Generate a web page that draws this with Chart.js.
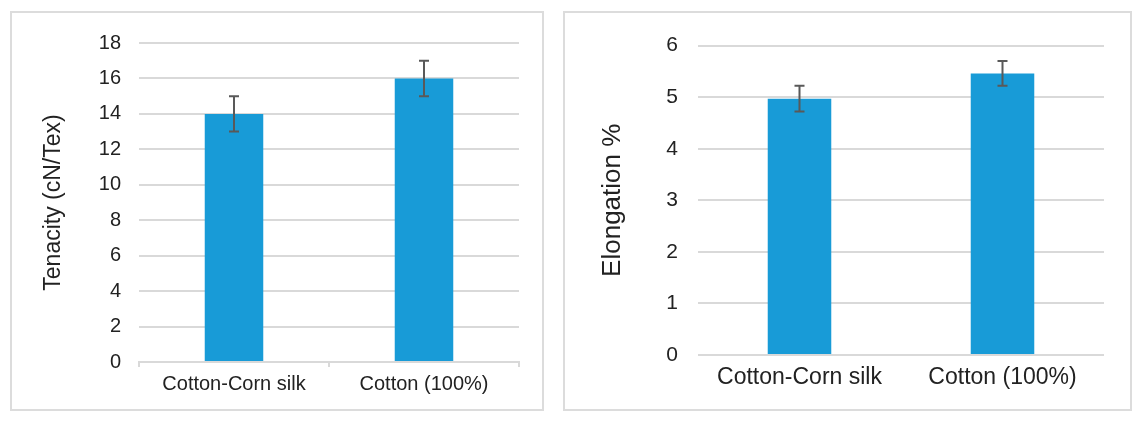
<!DOCTYPE html>
<html>
<head>
<meta charset="utf-8">
<script src="https://cdn.jsdelivr.net/npm/chart.js@4/dist/chart.umd.min.js"></script>
<style>
  html,body{margin:0;padding:0;background:#fff;width:1144px;height:421px;overflow:hidden;}
  .panel{position:absolute;top:11px;height:400px;border:2px solid #dcdcdc;box-sizing:border-box;background:#fff;}
  #p1{left:10px;width:534px;}
  #p2{left:563px;width:569px;}
  .panel canvas{display:block;}
</style>
</head>
<body>
<div class="panel" id="p1"><canvas id="c1"></canvas></div>
<div class="panel" id="p2"><canvas id="c2"></canvas></div>
<script>
/* data */
const categories = ['Cotton-Corn silk', 'Cotton (100%)'];
const tenacity = [14.0, 16.0];
const tenacityErr = [1.0, 1.0];
const elongation = [4.97, 5.46];
const elongationErr = [0.25, 0.24];
const tenacityMax = 18, tenacityStep = 2;
const elongationMax = 6, elongationStep = 1;

const BLUE = '#189bd7';
const GRID = '#d9d9d9';
const TXT = '#222';
const FONT = "'Liberation Sans', Arial, sans-serif";

// error bars with caps, drawn through the chart scales
const errorBars = {
  id: 'errorBars',
  afterDatasetsDraw(chart, args, opts){
    const {ctx, scales:{x, y}} = chart;
    const vals = chart.data.datasets[0].data;
    ctx.save();
    ctx.strokeStyle = '#595959';
    ctx.lineWidth = 2;
    vals.forEach((v, i) => {
      const e = opts.err[i];
      const px = x.getPixelForValue(i);
      const yt = y.getPixelForValue(v + e), yb = y.getPixelForValue(v - e);
      ctx.beginPath();
      ctx.moveTo(px, yt); ctx.lineTo(px, yb);
      ctx.moveTo(px - 5, yt); ctx.lineTo(px + 5, yt);
      ctx.moveTo(px - 5, yb); ctx.lineTo(px + 5, yb);
      ctx.stroke();
    });
    ctx.restore();
  }
};

function makeChart(id, w, h, o){
  const cv = document.getElementById(id);
  cv.style.width = w + 'px'; cv.style.height = h + 'px';
  return new Chart(cv, {
    type: 'bar',
    data: { labels: categories, datasets: [{
      data: o.values, backgroundColor: BLUE, borderWidth: 0,
      categoryPercentage: 1, barPercentage: o.barPct }]},
    options: {
      responsive: false, animation: false, devicePixelRatio: 1,
      layout: { padding: o.pad },
      plugins: { legend:{display:false}, tooltip:{enabled:false}, errorBars:{err:o.err} },
      scales: {
        x: {
          grid: { display: o.xTicks, drawOnChartArea: false, drawTicks: o.xTicks, tickLength: 5, color: GRID, lineWidth: 2 },
          border: { display: o.xTicks, color: GRID, width: 2 },
          ticks: { color: TXT, padding: o.xPad, font: { family: FONT, size: o.xFont } },
          afterFit: s => { s.height = o.xH; }
        },
        y: {
          min: 0, max: o.max,
          grid: { color: GRID, lineWidth: 2, drawTicks: false },
          border: { display: false },
          ticks: { stepSize: o.step, color: TXT, padding: o.yPad, font: { family: FONT, size: o.yFont } },
          title: { display: true, text: o.title, color: TXT, padding: { top: o.titlePad, bottom: 0 },
                   font: { family: FONT, size: o.titleFont } },
          afterFit: s => { s.width = o.yW; }
        }
      }
    },
    plugins: [errorBars]
  });
}

makeChart('c1', 530, 396, {
  values: tenacity, err: tenacityErr, max: tenacityMax, step: tenacityStep,
  title: 'Tenacity (cN/Tex)', titleFont: 23, titlePad: 28,
  yFont: 20, yPad: 18, yW: 127, xFont: 20, xPad: 5, xH: 47, xTicks: true,
  barPct: 0.308, pad: { left: 0, right: 23, top: 23, bottom: 0 }
});

makeChart('c2', 565, 396, {
  values: elongation, err: elongationErr, max: elongationMax, step: elongationStep,
  title: 'Elongation %', titleFont: 26, titlePad: 32,
  yFont: 21, yPad: 20, yW: 133, xFont: 23, xPad: 9, xH: 54, xTicks: false,
  barPct: 0.313, pad: { left: 0, right: 26, top: 27, bottom: 0 }
});
</script>
</body>
</html>
